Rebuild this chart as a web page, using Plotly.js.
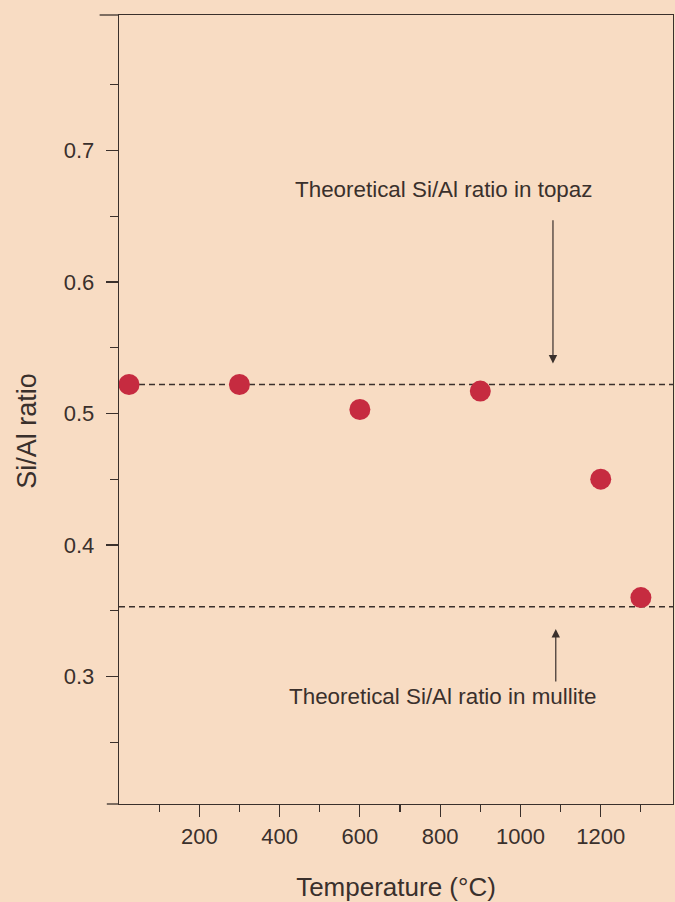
<!DOCTYPE html>
<html>
<head>
<meta charset="utf-8">
<script src="https://cdn.plot.ly/plotly-3.0.1.min.js"></script>
<style>
  html, body { margin: 0; padding: 0; background: #f8dcc3; }
  #chart { width: 675px; height: 902px; }
</style>
</head>
<body>
<div id="chart"></div>
<script>
// Measured data (temperature in °C, Si/Al ratio)
var temperatures = [25, 300, 600, 900, 1200, 1300];
var siAlRatio = [0.522, 0.522, 0.503, 0.517, 0.45, 0.36];

// Theoretical reference ratios
var topazRatio = 0.522;
var mulliteRatio = 0.353;
var refLineX = [0, 1380];

// Tick definitions
var xMajorTicks = [200, 400, 600, 800, 1000, 1200];
var xMinorTicks = [100, 300, 500, 700, 900, 1100, 1300];
var yMajorTicks = [0.3, 0.4, 0.5, 0.6, 0.7];
var yMajorLabels = ['0.3', '0.4', '0.5', '0.6', '0.7'];
var yMinorTicks = [0.25, 0.35, 0.45, 0.55, 0.65, 0.75];

var ink = '#3a302c';
var fontFam = 'Liberation Sans, Arial, Helvetica, sans-serif';

var traces = [
  {
    x: refLineX, y: [topazRatio, topazRatio],
    mode: 'lines', type: 'scatter', hoverinfo: 'skip',
    line: { color: ink, width: 1.3, dash: '6px,4px' }
  },
  {
    x: refLineX, y: [mulliteRatio, mulliteRatio],
    mode: 'lines', type: 'scatter', hoverinfo: 'skip',
    line: { color: ink, width: 1.3, dash: '6px,4px' }
  },
  {
    x: temperatures, y: siAlRatio,
    mode: 'markers', type: 'scatter',
    marker: { color: '#c62b40', size: 21, line: { width: 0 } }
  }
];

var layout = {
  width: 675, height: 902,
  paper_bgcolor: '#f8dcc3', plot_bgcolor: '#f8dcc3',
  showlegend: false,
  margin: { l: 119, r: 2, t: 15, b: 98 },
  font: { family: fontFam, color: ink },
  xaxis: {
    range: [0, 1380], fixedrange: true,
    tickmode: 'array', tickvals: xMajorTicks,
    ticks: 'outside', ticklen: 12, tickwidth: 1.2, tickcolor: ink,
    showline: true, linecolor: ink, linewidth: 1.3, mirror: true,
    showgrid: false, zeroline: false,
    tickfont: { family: fontFam, size: 22, color: ink },
    minor: { tickmode: 'array', tickvals: xMinorTicks, ticks: 'outside', ticklen: 7, tickwidth: 1.2, tickcolor: ink, showgrid: false },
    title: { text: 'Temperature (°C)', font: { family: fontFam, size: 26, color: ink }, standoff: 30 }
  },
  yaxis: {
    range: [0.203, 0.803], fixedrange: true,
    tickmode: 'array', tickvals: yMajorTicks, ticktext: yMajorLabels,
    ticks: 'outside', ticklen: 12, tickwidth: 1.2, tickcolor: ink,
    ticklabelstandoff: 7,
    showline: true, linecolor: ink, linewidth: 1.3, mirror: true,
    showgrid: false, zeroline: false,
    tickfont: { family: fontFam, size: 22, color: ink },
    minor: { tickmode: 'array', tickvals: yMinorTicks, ticks: 'outside', ticklen: 8, tickwidth: 1.2, tickcolor: ink, showgrid: false }
  },
  shapes: [
    { type: 'line', xref: 'paper', yref: 'paper', x0: -0.035, x1: 0, y0: 1, y1: 1, line: { color: ink, width: 1.3 } },
    { type: 'line', xref: 'paper', yref: 'paper', x0: -0.022, x1: 0, y0: 0, y1: 0, line: { color: ink, width: 1.3 } }
  ],
  annotations: [
    {
      x: -0.166, y: 0.473, xref: 'paper', yref: 'paper', showarrow: false,
      text: 'Si/Al ratio', textangle: -90, xanchor: 'center', yanchor: 'middle',
      font: { family: fontFam, size: 27, color: ink }
    },
    {
      x: 808, y: 0.670, xref: 'x', yref: 'y', showarrow: false,
      text: 'Theoretical Si/Al ratio in topaz',
      font: { family: fontFam, size: 22.4, color: ink }
    },
    {
      x: 1081, y: 0.538, ax: 1081, ay: 0.648, xref: 'x', yref: 'y', axref: 'x', ayref: 'y',
      text: '', showarrow: true, arrowhead: 2, arrowsize: 1.4, arrowwidth: 1.2, arrowcolor: ink
    },
    {
      x: 1088, y: 0.336, ax: 1088, ay: 0.295, xref: 'x', yref: 'y', axref: 'x', ayref: 'y',
      text: '', showarrow: true, arrowhead: 2, arrowsize: 1.4, arrowwidth: 1.2, arrowcolor: ink
    },
    {
      x: 805, y: 0.285, xref: 'x', yref: 'y', showarrow: false,
      text: 'Theoretical Si/Al ratio in mullite',
      font: { family: fontFam, size: 22.4, color: ink }
    }
  ]
};

Plotly.newPlot('chart', traces, layout, { displayModeBar: false, staticPlot: true });
</script>
</body>
</html>
